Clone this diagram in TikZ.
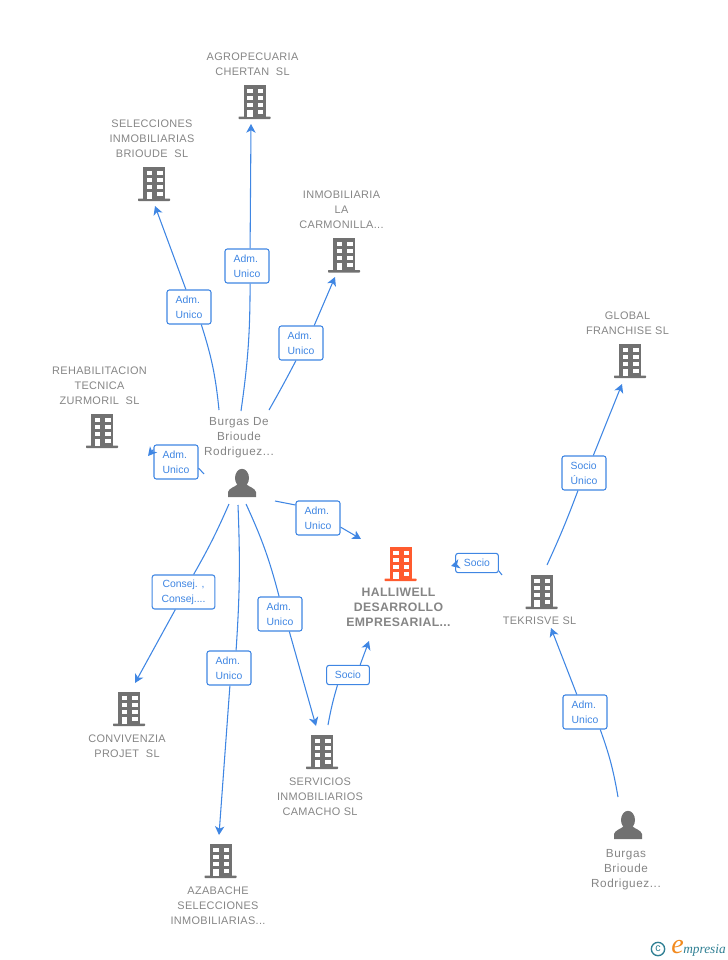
\documentclass[tikz,border=0pt]{standalone}
\usepackage{fontspec}
\setmainfont{Liberation Sans}
\newfontfamily\namefont[LetterSpace=3]{Liberation Sans}
\newfontfamily\personfont[LetterSpace=5]{Liberation Sans}
\newfontfamily\logofont{Liberation Serif}
\usetikzlibrary{arrows.meta}
\definecolor{linkblue}{HTML}{3F86E3}
\definecolor{icongrey}{HTML}{717171}
\definecolor{textgrey}{HTML}{858585}
\definecolor{mainorange}{HTML}{FF5B2E}
\definecolor{logoteal}{HTML}{2F7F93}
\definecolor{logoorange}{HTML}{F28A1E}
\tikzset{
  namedecorate/.style={align=center,text=textgrey,font=\namefont\fontsize{8.2}{11.25}\selectfont,inner sep=0pt},
  persondecorate/.style={namedecorate,font=\personfont\fontsize{8.8}{11.25}\selectfont},
  maindecorate/.style={namedecorate,font=\namefont\fontsize{9.2}{11.25}\selectfont\bfseries},
  labeldecorate/.style={draw=linkblue,fill=white,rounded corners=1.8pt,line width=0.8pt,text=linkblue,
    align=left,font=\fontsize{7.8}{11.25}\selectfont,inner sep=0pt,minimum height=25.5pt,minimum width=33pt},
  linedecorate/.style={draw=linkblue,line width=0.8pt},
  arrowdecorate/.style={linedecorate,-{Stealth[length=6.5pt,width=7pt,inset=1.8pt]}},
  pics/building/.style={code={
    \fill[#1] (-11,-17) rectangle (11,15);
    \fill[#1,rounded corners=0.5pt] (-16,15) rectangle (16,17.5);
    \foreach \wy in {-13,-6,1} {
      \fill[white] (-7.5,\wy) rectangle (-2,\wy+4);
      \fill[white] (3,\wy) rectangle (8.5,\wy+4);
    }
    \fill[white] (-7.5,8) rectangle (-2,15);
    \fill[white] (3,8) rectangle (8.5,12);
  }},
  pics/person/.style={code={
    \fill[icongrey] (0,-5) ellipse (7 and 9.2);
    \fill[icongrey] (-14,14) -- (-14,9) .. controls (-13,5) and (-7,4) .. (-4,1)
      -- (4,1) .. controls (7,4) and (13,5) .. (14,9) -- (14,14) -- cycle;
  }}
}
\begin{document}
\begin{tikzpicture}[x=0.75pt,y=-0.75pt]
\useasboundingbox (0,0) rectangle (728,960);
%% buildings and persons
\foreach \iconname/\x/\y in {
  agro/254.5/101.5, selec/154/183.5, carmo/344/255, rehab/102/430.5, conv/129/708.5,
  serv/322/751.5, azab/220.5/860.5, tekr/541.5/591.5, glob/630/360.5}
{
  \pic (\iconname) at (\x,\y) {building=icongrey};
}
\pic (halli) at (400.5,563.5) {building=mainorange};
\pic (burgasa) at (242,483) {person};
\pic (burgasb) at (628,825) {person};
%% names
\node (nagro) at (252.5,64.3) [namedecorate] {AGROPECUARIA\\CHERTAN\ \ SL};
\node (nselec) at (152,138.7) [namedecorate] {SELECCIONES\\INMOBILIARIAS\\BRIOUDE\ \ SL};
\node (ncarmo) at (341.5,209.7) [namedecorate] {INMOBILIARIA\\LA\\CARMONILLA...};
\node (nrehab) at (99.5,385.7) [namedecorate] {REHABILITACION\\TECNICA\\ZURMORIL\ \ SL};
\node (nburgasa) at (239,437.5) [persondecorate] {Burgas De\\Brioude\\Rodriguez...};
\node (nglob) at (627.5,323.7) [namedecorate] {GLOBAL\\FRANCHISE SL};
\node (nhalli) at (398.5,607) [maindecorate] {HALLIWELL\\DESARROLLO\\EMPRESARIAL...};
\node (ntekr) at (539.5,620.7) [namedecorate] {TEKRISVE SL};
\node (nconv) at (127,746.7) [namedecorate] {CONVIVENZIA\\PROJET\ \ SL};
\node (nserv) at (320,796.7) [namedecorate] {SERVICIOS\\INMOBILIARIOS\\CAMACHO SL};
\node (nazab) at (218,905.7) [namedecorate] {AZABACHE\\SELECCIONES\\INMOBILIARIAS...};
\node (nburgasb) at (626,869.5) [persondecorate] {Burgas\\Brioude\\Rodriguez...};
%% labels on the connectors
\node (lagro) at (247,266) [labeldecorate] {Adm.\\Unico};
\node (lselec) at (189,307) [labeldecorate] {Adm.\\Unico};
\node (lcarmo) at (301,343) [labeldecorate] {Adm.\\Unico};
\node (lrehab) at (176,462) [labeldecorate] {Adm.\\Unico};
\node (lhalli) at (318,518) [labeldecorate] {Adm.\\Unico};
\node (lconv) at (183.5,592) [labeldecorate,align=center,minimum width=47pt] {Consej. ,\\Consej....};
\node (lazab) at (229,668) [labeldecorate] {Adm.\\Unico};
\node (lserv) at (280,614) [labeldecorate] {Adm.\\Unico};
\node (lservh) at (348,675) [labeldecorate,minimum width=32pt,minimum height=14.5pt] {Socio};
\node (ltekr) at (477,563) [labeldecorate,minimum width=32pt,minimum height=14.5pt] {Socio};
\node (lglob) at (584,473) [labeldecorate] {Socio\\Único};
\node (lburgas) at (585,712) [labeldecorate] {Adm.\\Unico};
%% free ends
\foreach \pointname/\x/\y in {
  sagro/241/411, eagro/251/124, sselec/219/410, eselec/155/206,
  scarmo/269/410, ecarmo/335/277, srehab/204/474, erehab/148/456,
  shalli/275/501, ehalli/361/539, sconv/229/504, econv/135/683,
  sazab/238/505, eazab/219/835, sserv/246/504, eserv/316/726,
  sservh/328/725, eservh/369/641, stekr/502/575, etekr/451/566,
  sglob/547/565, eglob/622/384, sburgas/618/797, eburgas/551/628}
{
  \coordinate (\pointname) at (\x,\y);
}
%% edges or lines
\foreach \startnode/\labelnode/\endnode/\bendangle/\inangle/\outangle in {
  sagro/lagro/eagro/-4/-80/80, sselec/lselec/eselec/-6/-55/100,
  scarmo/lcarmo/ecarmo/-1/-106/53, srehab/lrehab/erehab/0/-15/151,
  shalli/lhalli/ehalli/0/150/-22, sconv/lconv/econv/3/60/245,
  sazab/lazab/eazab/3/68/-87, sserv/lserv/eserv/5/93/-62,
  sservh/lservh/eservh/3/-136/40, stekr/ltekr/etekr/0/-20/185,
  sglob/lglob/eglob/-2/-109/62, sburgas/lburgas/eburgas/-5/-49/115}
{
  \draw[linedecorate] (\startnode) to[bend left=\bendangle] (\labelnode.\inangle);
  \draw[arrowdecorate] (\labelnode.\outangle) -- (\endnode);
}
%% logo
\node (logoc) at (658,949) [draw=logoteal,line width=1pt,circle,inner sep=0pt,minimum size=10pt,
  text=logoteal,font=\fontsize{8}{8}\selectfont] {c};
\node (logoe) at (677.5,947) [text=logoorange,font=\logofont\fontsize{21}{21}\selectfont\itshape,inner sep=0pt] {e};
\node (logot) at (683,950) [anchor=west,text=logoteal,font=\logofont\fontsize{10}{10}\selectfont\itshape,inner sep=0pt] {mpresia};
\end{tikzpicture}
\end{document}
